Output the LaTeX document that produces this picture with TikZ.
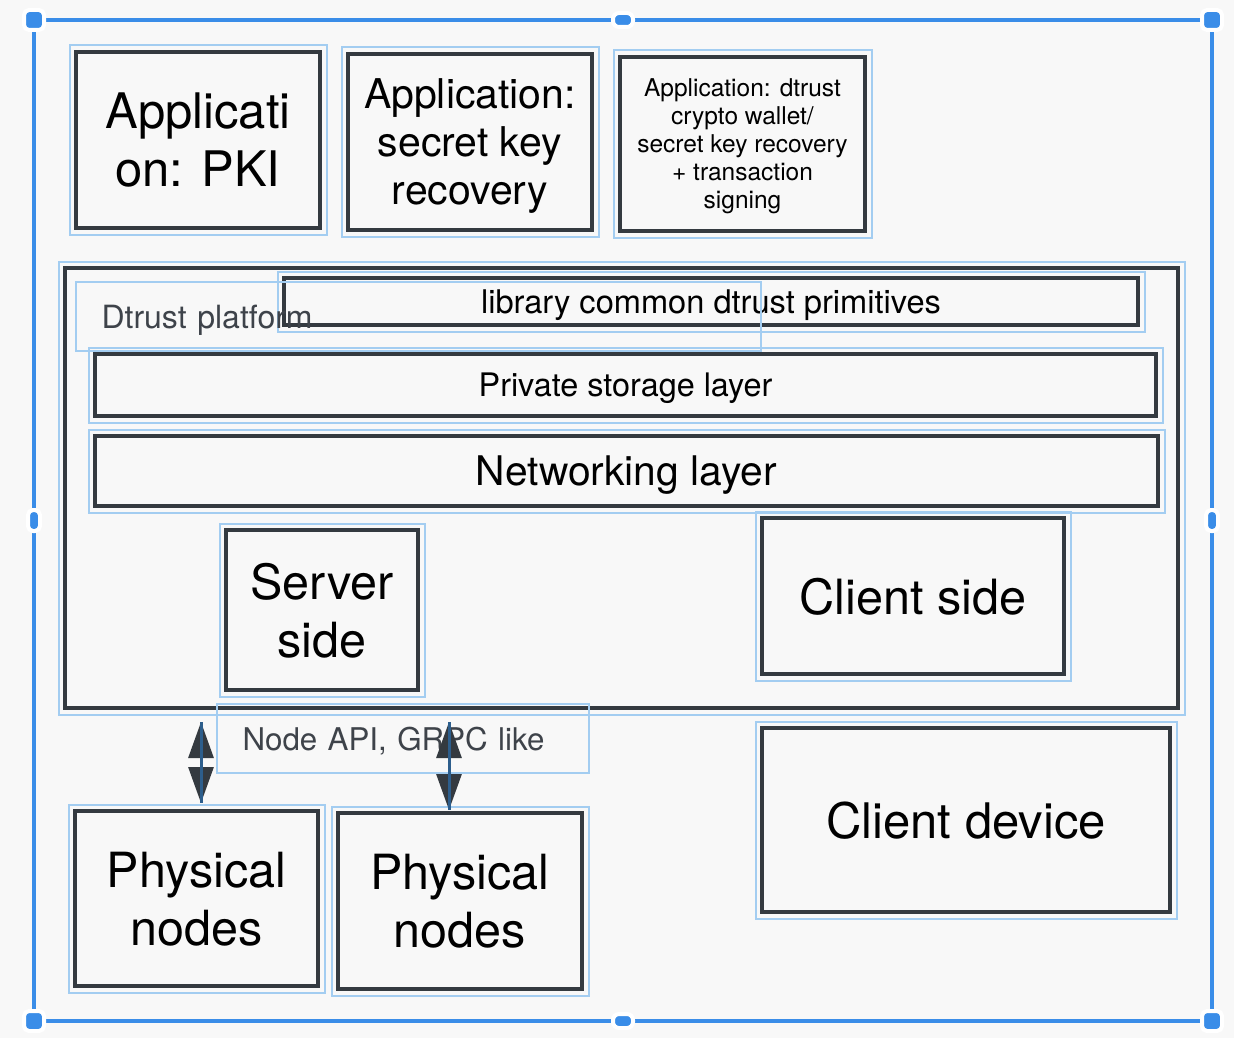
\documentclass[tikz,border=0pt]{standalone}
\usepackage{fontspec}
\setmainfont{TeX Gyre Heros}
\usetikzlibrary{arrows.meta}

\definecolor{pagebg}{HTML}{F8F8F8}
\definecolor{boxline}{HTML}{343A40}
\definecolor{selblue}{HTML}{A3CDF1}
\definecolor{frameblue}{HTML}{3A8DE8}
\definecolor{shaftblue}{HTML}{2D5E8C}
\definecolor{labelgray}{HTML}{3E434A}

\begin{document}
\begin{tikzpicture}[x=1pt,y=-1pt,
  box/.style={draw=boxline, line width=4pt, align=center, inner sep=0pt, text depth=0pt, text=black},
  sel/.style={draw=selblue, line width=2pt},
  lbl/.style={draw=selblue, line width=2pt, text=labelgray, align=left, anchor=west,
    inner xsep=25.5pt, inner ysep=0pt, text depth=0pt},
  handle/.style={fill=frameblue, draw=white, line width=4pt},
  link/.style={{Triangle[length=36pt,width=25pt]}-{Triangle[length=36pt,width=25pt]},
    draw=boxline, line width=3pt},
  shaft/.style={draw=shaftblue, line width=3pt}]
% Page
\useasboundingbox (0,0) rectangle (1234,1038);
\fill [pagebg] (0,0) rectangle (1234,1038);
% Selection frame
\draw [frameblue, line width=3.5pt] (34,20) rectangle (1212,1021);
\foreach \hx/\hy in {34/20, 1212/20, 34/1021, 1212/1021}
  \filldraw [handle, rounded corners=5pt] (\hx-10,\hy-10) rectangle (\hx+10,\hy+10);
\foreach \hy in {20, 1021}
  \filldraw [handle, rounded corners=6pt] (613,\hy-7) rectangle (633,\hy+7);
\foreach \hx in {34, 1212}
  \filldraw [handle, rounded corners=5pt] (\hx-6,510) rectangle (\hx+6,531);
% Applications
\node [box, minimum width=244pt, minimum height=176pt, font=\fontsize{49}{58}\selectfont]
  (pki) at (198,140) {Applicati\\on: PKI};
\node [box, minimum width=244pt, minimum height=176pt, font=\fontsize{41}{48}\selectfont]
  (skr) at (470,142) {Application:\\secret key\\recovery};
\node [box, minimum width=245pt, minimum height=174pt, font=\fontsize{24.5}{28}\selectfont]
  (wallet) at (742.5,144) {Application: dtrust\\crypto wallet/\\secret key recovery\\+ transaction\\signing};
% Dtrust platform
\node [box, minimum width=1113pt, minimum height=440pt] (platform) at (621.5,488) {};
\node [box, minimum width=854pt, minimum height=47pt, font=\fontsize{32.6}{38}\selectfont]
  (libprim) at (711,301.5) {library common dtrust primitives};
\node [box, minimum width=1061pt, minimum height=62pt, font=\fontsize{32.4}{38}\selectfont]
  (storage) at (625.5,385) {Private storage layer};
\node [box, minimum width=1063pt, minimum height=70pt, font=\fontsize{40.8}{48}\selectfont]
  (netlayer) at (626.5,471) {Networking layer};
\node [box, minimum width=192pt, minimum height=160pt, font=\fontsize{48.5}{58}\selectfont]
  (server) at (322,610) {Server\\side};
\node [box, minimum width=302pt, minimum height=156pt, font=\fontsize{48.6}{58}\selectfont]
  (client) at (913,596) {Client side};
% Devices
\node [box, minimum width=408pt, minimum height=184pt, font=\fontsize{49}{58}\selectfont]
  (device) at (966,820) {Client device};
\node [box, minimum width=243pt, minimum height=175pt, font=\fontsize{48.5}{58}\selectfont]
  (pnodes1) at (196.5,898.5) {Physical\\nodes};
\node [box, minimum width=244pt, minimum height=176pt, font=\fontsize{48.5}{58}\selectfont]
  (pnodes2) at (460,901) {Physical\\nodes};
% Selection outlines
\foreach \b in {pki,skr,wallet,platform,libprim,storage,netlayer,server,client,device,pnodes1,pnodes2}
  \draw [sel] ([shift={(-4.5pt,-4.5pt)}]\b.south west) rectangle ([shift={(4.5pt,4.5pt)}]\b.north east);
% Label "Dtrust platform"
\node [lbl, minimum width=685pt, minimum height=69pt, text width=634pt, font=\fontsize{32}{38}\selectfont]
  (platlbl) at (75,316.5) {Dtrust platform};
% Label "Node API"
\node [lbl, minimum width=372pt, minimum height=69pt, text width=321pt, font=\fontsize{31.3}{38}\selectfont]
  (apilbl) at (216,738.5) {Node API, GRPC like};
% Links to physical nodes
\coordinate (lnk1a) at (201,722);
\coordinate (lnk1b) at (201,803);
\coordinate (lnk2a) at (449,722);
\coordinate (lnk2b) at (449,810);
\draw [link] (lnk1a) -- (lnk1b);
\draw [shaft] (lnk1a) -- (lnk1b);
\draw [link] (lnk2a) -- (lnk2b);
\draw [shaft] (lnk2a) -- (lnk2b);
\end{tikzpicture}
\end{document}
